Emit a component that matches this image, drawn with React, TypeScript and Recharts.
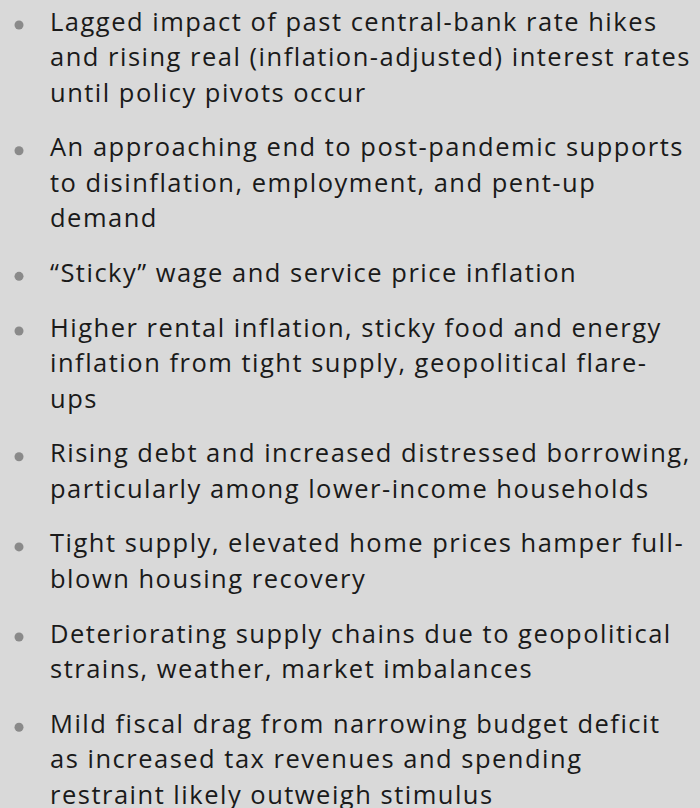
import { ScatterChart, Scatter, XAxis, YAxis } from "recharts"

/* ---------------------------------
   Data
---------------------------------- */
const itemLines: string[][] = [
  [
    "Lagged impact of past central-bank rate hikes",
    "and rising real (inflation-adjusted) interest rates",
    "until policy pivots occur",
  ],
  [
    "An approaching end to post-pandemic supports",
    "to disinflation, employment, and pent-up",
    "demand",
  ],
  ["\u201cSticky\u201d wage and service price inflation"],
  [
    "Higher rental inflation, sticky food and energy",
    "inflation from tight supply, geopolitical flare-",
    "ups",
  ],
  [
    "Rising debt and increased distressed borrowing,",
    "particularly among lower-income households",
  ],
  [
    "Tight supply, elevated home prices hamper full-",
    "blown housing recovery",
  ],
  [
    "Deteriorating supply chains due to geopolitical",
    "strains, weather, market imbalances",
  ],
  [
    "Mild fiscal drag from narrowing budget deficit",
    "as increased tax revenues and spending",
    "restraint likely outweigh stimulus",
  ],
]

const W = 700
const H = 808
const LINE = 35.5 // px per text line
const GAP = 0.54 // extra space between bullets, in lines
const FIRST = 0.86 // baseline of the first line, in lines

// y of each bullet, in line units, stacked from the line counts
let acc = FIRST
const rows = itemLines.map((lines) => {
  const row = { x: 0, y: acc, lines }
  acc += lines.length + GAP
  return row
})

const FONT = "'Open Sans', 'Noto Sans', sans-serif"

/* ---------------------------------
   Bullet + text shape
---------------------------------- */
function BulletItem(props: any) {
  const { cx, cy, payload } = props
  const tx = cx + 31
  return (
    <g>
      <circle cx={cx} cy={cy - 5.5} r={4.5} fill="#8a8a8a" />
      <text
        x={tx}
        y={cy}
        fontFamily={FONT}
        fontSize={25.5}
        letterSpacing={1.5}
        fill="#1a1a1a"
      >
        {payload.lines.map((l: string, j: number) => (
          <tspan key={j} x={tx} dy={j === 0 ? 0 : LINE}>
            {l}
          </tspan>
        ))}
      </text>
    </g>
  )
}

export default function App() {
  return (
    <div style={{ width: W, height: H, background: "#d9d9d9" }}>
      <style>{"body{margin:0}"}</style>
      <ScatterChart
        width={W}
        height={H}
        margin={{ top: 0, right: 0, bottom: 0, left: 19 }}
      >
        <XAxis type="number" dataKey="x" domain={[0, 1]} hide />
        <YAxis type="number" dataKey="y" domain={[0, H / LINE]} reversed hide />
        <Scatter data={rows} shape={<BulletItem />} isAnimationActive={false} />
      </ScatterChart>
    </div>
  )
}
